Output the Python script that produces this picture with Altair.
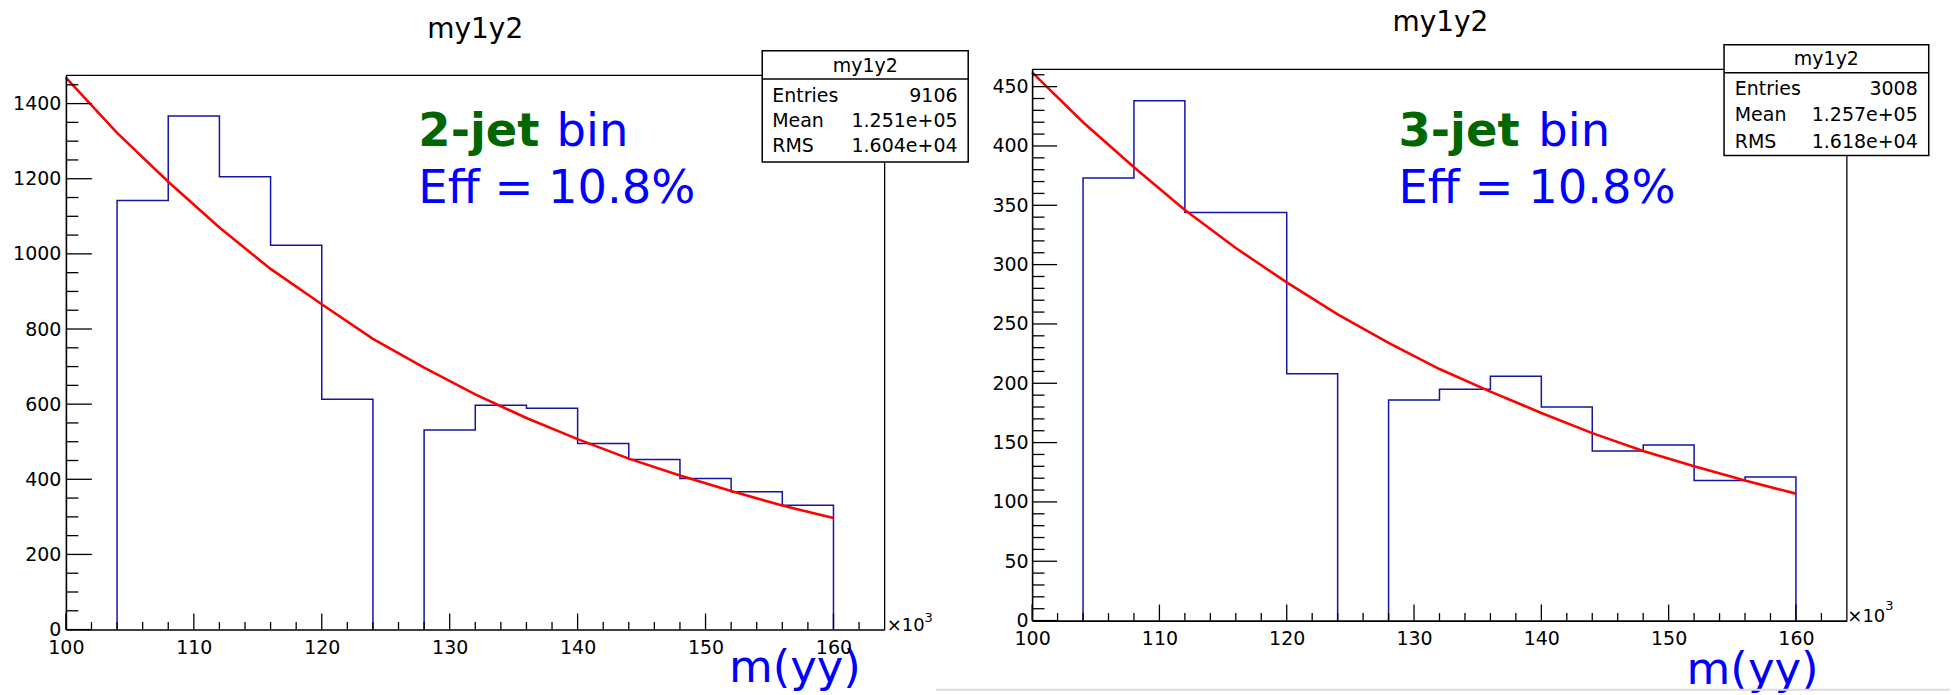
import altair as alt
import pandas as pd

FONT = "DejaVu Sans"

# ---------------- data ----------------
bin_edges = [100, 104, 108, 112, 116, 120, 124, 128, 132, 136, 140, 144, 148, 152, 156, 160]
counts_2jet = [0, 1142, 1367, 1205, 1023, 613, 0, 531, 597, 589, 495, 453, 402, 367, 331]
counts_3jet = [0, 373, 438, 344, 344, 208, 0, 186, 195, 206, 180, 143, 148, 118, 121]

fit_x = [100, 104, 108, 112, 116, 120, 124, 128, 132, 136, 140, 144, 148, 152, 156, 160]
fit_2jet = [1469, 1322, 1192, 1070, 960, 866, 774, 697, 626, 563, 507, 455, 410, 369, 330, 297]
fit_3jet = [462, 420, 382, 346, 314, 285, 258, 234, 212, 193, 175, 158, 143, 130, 118, 107]

x_major = [100, 110, 120, 130, 140, 150, 160]
x_minor = [102, 104, 106, 108, 112, 114, 116, 118, 122, 124, 126, 128, 132, 134, 136, 138,
           142, 144, 146, 148, 152, 154, 156, 158, 162]
y_major_2jet = [0, 200, 400, 600, 800, 1000, 1200, 1400]
y_minor_2jet = [50, 100, 150, 250, 300, 350, 450, 500, 550, 650, 700, 750, 850, 900, 950,
                1050, 1100, 1150, 1250, 1300, 1350, 1450]
y_major_3jet = [0, 50, 100, 150, 200, 250, 300, 350, 400, 450]
y_minor_3jet = [v for v in range(10, 461, 10) if v % 50 != 0]

x_domain = [100, 164]
y_max_2jet = 1475
y_max_3jet = 464.5

stats_labels = ["Entries", "Mean", "RMS"]
stats_2jet = ["9106", "1.251e+05", "1.604e+04"]
stats_3jet = ["3008", "1.257e+05", "1.618e+04"]

hist_title = "my1y2"
jet_2 = "2-jet"
jet_3 = "3-jet"
eff_2 = "Eff = 10.8%"
eff_3 = "Eff = 10.8%"
x_title = "m(yy)"

HIST_COLOR = "#1515a5"
FIT_COLOR = "#ff0000"
GREEN = "#006600"
BLUE = "#0000ff"

one = pd.DataFrame({"a": [0]})


def outline(edges, counts):
    """Histogram outline (ROOT style) split into runs of non-empty bins."""
    rows = []
    seg = 0
    i = 0
    order = 0
    n = len(counts)
    while i < n:
        if counts[i] == 0:
            i += 1
            continue
        rows.append((seg, order, edges[i], 0)); order += 1
        while i < n and counts[i] != 0:
            rows.append((seg, order, edges[i], counts[i])); order += 1
            rows.append((seg, order, edges[i + 1], counts[i])); order += 1
            i += 1
        rows.append((seg, order, edges[i], 0)); order += 1
        seg += 1
    return pd.DataFrame(rows, columns=["seg", "i", "x", "y"])


def text(t, x, y, size, align="left", color="black", weight="normal"):
    return alt.Chart(one).mark_text(
        text=t, font=FONT, fontSize=size, align=align, baseline="alphabetic",
        color=color, fontWeight=weight
    ).encode(x=alt.value(x), y=alt.value(y))


def rule(x, x2, y, y2, color="black", width=1.4):
    return alt.Chart(one).mark_rule(color=color, strokeWidth=width).encode(
        x=alt.value(x), x2=alt.value(x2), y=alt.value(y), y2=alt.value(y2))


def panel(counts, fit, ymax, ymaj, ymin, stats, jet, eff, g):
    W, H, top = g["W"], g["H"], g["top"]
    xs = alt.Scale(domain=x_domain, nice=False, zero=False)
    ys = alt.Scale(domain=[0, ymax], nice=False, zero=True, range=[H, top])
    xaxis = alt.Axis(values=x_major, format="d", title=None, ticks=False, tickSize=0,
                     domainColor="black", domainWidth=1.6, labelFont=FONT, labelFontSize=19,
                     labelColor="black", labelPadding=9, labelFlush=False, labelOverlap=False,
                     grid=False, zindex=1)
    yaxis = alt.Axis(values=ymaj, format="d", title=None, ticks=False, tickSize=0,
                     domainColor="black", domainWidth=1.6, labelFont=FONT, labelFontSize=19,
                     labelColor="black", labelPadding=g["ylabpad"], labelFlush=False,
                     labelOverlap=False, grid=False, zindex=1)
    X = alt.X("x:Q", scale=xs, axis=xaxis)
    Y = alt.Y("y:Q", scale=ys, axis=yaxis)

    hist_df = outline(bin_edges, counts)
    fit_df = pd.DataFrame({"x": fit_x, "y": fit})

    layers = []
    # extent helpers (invisible)
    for (x1, x2, y1, y2) in g["extent"]:
        layers.append(alt.Chart(one).mark_rect(opacity=0, color="white").encode(
            x=alt.value(x1), x2=alt.value(x2), y=alt.value(y1), y2=alt.value(y2)))
    # frame
    layers.append(rule(0, W, top, top, width=1.3))
    layers.append(rule(W, W, top, H, width=1.3))
    # histogram and fit
    layers.append(alt.Chart(hist_df).mark_line(color=HIST_COLOR, strokeWidth=1.5).encode(
        x=X, y=Y, detail="seg:N", order="i:Q"))
    layers.append(alt.Chart(fit_df).mark_line(color=FIT_COLOR, strokeWidth=2.6).encode(x=X, y=Y))
    # ticks
    layers.append(alt.Chart(pd.DataFrame({"x": x_minor})).mark_rule(color="black", strokeWidth=1.3)
                  .encode(x=X, y=alt.value(H), y2=alt.value(H - 7.5)))
    layers.append(alt.Chart(pd.DataFrame({"x": x_major})).mark_rule(color="black", strokeWidth=1.3)
                  .encode(x=X, y=alt.value(H), y2=alt.value(H - 16)))
    layers.append(alt.Chart(pd.DataFrame({"y": ymin})).mark_rule(color="black", strokeWidth=1.3)
                  .encode(y=Y, x=alt.value(0), x2=alt.value(g["ymintick"])))
    layers.append(alt.Chart(pd.DataFrame({"y": ymaj})).mark_rule(color="black", strokeWidth=1.3)
                  .encode(y=Y, x=alt.value(0), x2=alt.value(g["ymajtick"])))
    # title
    layers.append(text(hist_title, g["title"][0], g["title"][1], 28, align="center"))
    # stats box
    bx1, bx2, by1, by2, bdiv = g["box"]
    layers.append(alt.Chart(one).mark_rect(fill="white", stroke="black", strokeWidth=1.5).encode(
        x=alt.value(bx1), x2=alt.value(bx2), y=alt.value(by1), y2=alt.value(by2)))
    layers.append(rule(bx1, bx2, bdiv, bdiv, width=1.5))
    layers.append(text(hist_title, (bx1 + bx2) / 2, g["boxhead"], 19, align="center"))
    for lab, val, yb in zip(stats_labels, stats, g["rows"]):
        layers.append(text(lab, g["rowx"][0], yb, 19))
        layers.append(text(val, g["rowx"][1], yb, 19, align="right"))
    # annotations
    jx, jy, binx, ey = g["jet"]
    layers.append(text(jet, jx, jy, 46.5, color=GREEN, weight="bold"))
    layers.append(text("bin", binx, jy, 46.5, color=BLUE))
    layers.append(text(eff, jx, ey, 46.5, color=BLUE))
    # x10^3
    tx, ty, sx, sy = g["x10"]
    layers.append(text("\u00d710", tx, ty, 18))
    layers.append(text("3", sx, sy, 13))
    # axis title
    layers.append(text(x_title, g["xtitle"][0], g["xtitle"][1], 45, color=BLUE))
    for (x1, x2, y1, col, w) in g.get("extra_rules", []):
        layers.append(rule(x1, x2, y1, y1, color=col, width=w))

    return alt.layer(*layers).properties(width=W, height=H)


g_left = dict(
    W=820, H=561, top=6, ylabpad=5, ymajtick=26, ymintick=12.5,
    extent=[(-65.3, 0, -68, 0)],
    title=(410, -31.3),
    box=(697.4, 903.7, -18.7, 92.7, 9.7), boxhead=2.7,
    rows=[33, 57.7, 83], rowx=(707.4, 893),
    jet=(353, 77, 491.4, 133.7),
    x10=(822, 562, 860, 553),
    xtitle=(664, 613.7),
)
g_right = dict(
    W=816, H=552, top=0, ylabpad=4, ymajtick=25, ymintick=12.4,
    extent=[(918, 919, 626, 627)],
    title=(409, -38),
    box=(693, 898, -24.7, 86.3, 3.3), boxhead=-4.7,
    rows=[25.3, 52, 78.7], rowx=(703.7, 887),
    jet=(367, 77, 507, 133.7),
    x10=(816.5, 553, 854.5, 541),
    xtitle=(655.5, 615.3),
    extra_rules=[(-96.3, 919, 621.3, "#dcdcdc", 2)],
)

left = panel(counts_2jet, fit_2jet, y_max_2jet, y_major_2jet, y_minor_2jet, stats_2jet,
             jet_2, eff_2, g_left)
right = panel(counts_3jet, fit_3jet, y_max_3jet, y_major_3jet, y_minor_3jet, stats_3jet,
              jet_3, eff_3, g_right)

chart = alt.hconcat(left, right, spacing=147.7, bounds="flush").properties(
    padding=0, background="white"
).configure_view(stroke="transparent")

chart.save("out.html", embed_options={"renderer": "svg", "actions": False})
